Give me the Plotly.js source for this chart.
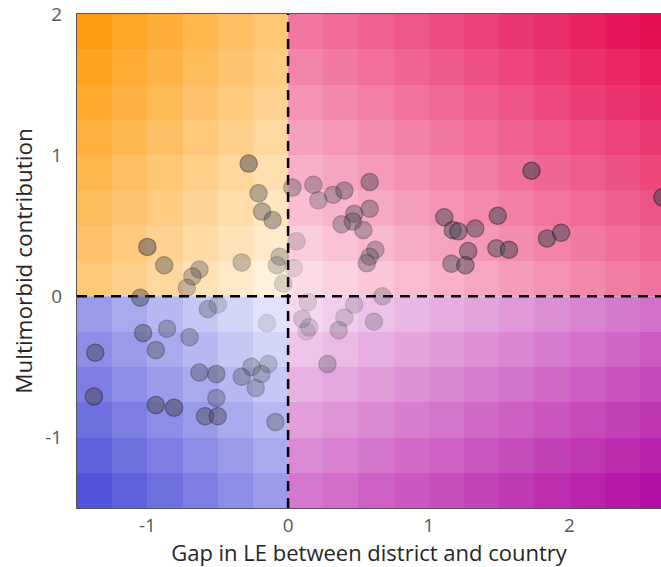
<!DOCTYPE html>
<html>
<head>
<meta charset="utf-8">
<script src="https://cdn.plot.ly/plotly-3.0.1.min.js"></script>
<style>html,body{margin:0;padding:0;background:#fff;}#chart{width:661px;height:567px;}</style>
</head>
<body>
<div id="chart"></div>
<script>
// ---- Data ----
const gapLE = [
  // top-left quadrant
  -1.00, -0.88, -0.63, -0.68, -0.72, -0.33, -0.28, -0.21, -0.185, -0.11, -0.06, -0.08, -0.035, -1.05,
  // top-right quadrant
  0.03, 0.18, 0.215, 0.32, 0.40, 0.58, 0.58, 0.47, 0.46, 0.38, 0.535, 0.62, 0.58, 0.56, 0.06, 0.04, 0.67,
  1.73, 1.11, 1.17, 1.21, 1.33, 1.49, 1.28, 1.16, 1.26, 1.48, 1.57, 1.84, 1.94, 2.66,
  // bottom-left quadrant
  -1.03, -0.86, -0.70, -0.94, -1.37, -1.38, -0.94, -0.81, -0.57, -0.50, -0.15, -0.63, -0.51, -0.33,
  -0.26, -0.14, -0.19, -0.23, -0.51, -0.59, -0.50, -0.09,
  // bottom-right quadrant
  0.14, 0.47, 0.10, 0.15, 0.13, 0.40, 0.36, 0.61, 0.28
];
const multimorbid = [
  0.35, 0.22, 0.19, 0.14, 0.06, 0.24, 0.94, 0.73, 0.60, 0.54, 0.28, 0.22, 0.09, -0.01,
  0.77, 0.79, 0.68, 0.72, 0.75, 0.81, 0.62, 0.585, 0.53, 0.51, 0.47, 0.33, 0.28, 0.235, 0.39, 0.20, 0.00,
  0.89, 0.56, 0.47, 0.46, 0.48, 0.57, 0.32, 0.23, 0.22, 0.34, 0.33, 0.41, 0.45, 0.70,
  -0.26, -0.23, -0.29, -0.38, -0.40, -0.71, -0.77, -0.79, -0.09, -0.06, -0.19, -0.54, -0.55, -0.57,
  -0.50, -0.48, -0.55, -0.65, -0.72, -0.85, -0.85, -0.89,
  -0.04, -0.06, -0.16, -0.22, -0.25, -0.15, -0.24, -0.18, -0.48
];
const pointAlpha = [
  0.5, 0.4, 0.35, 0.35, 0.3, 0.3, 0.5, 0.4, 0.4, 0.4, 0.3, 0.25, 0.2, 0.45,
  0.35, 0.35, 0.3, 0.35, 0.4, 0.45, 0.4, 0.4, 0.4, 0.35, 0.35, 0.35, 0.35, 0.35, 0.2, 0.15, 0.25,
  0.6, 0.5, 0.5, 0.5, 0.5, 0.55, 0.5, 0.45, 0.5, 0.5, 0.55, 0.55, 0.55, 0.6,
  0.45, 0.35, 0.35, 0.4, 0.5, 0.5, 0.5, 0.5, 0.3, 0.2, 0.15, 0.4, 0.4, 0.35,
  0.3, 0.25, 0.3, 0.3, 0.35, 0.45, 0.45, 0.35,
  0.15, 0.2, 0.2, 0.2, 0.15, 0.2, 0.25, 0.25, 0.3
];
const xTicks = [-1, 0, 1, 2];
const yTicks = [-1, 0, 1, 2];
const xRange = [-1.5, 2.65];
const yRange = [-1.5, 2.0];

// ---- Background quadrant gradient (decoration) ----
const cell = 0.25;
function centers(a, b) { const out = []; for (let v = a + cell / 2; v < b; v += cell) out.push(+v.toFixed(4)); return out; }
function quadrant(x0, x1, y0, y1, light, dark) {
  const xs = centers(x0, x1), ys = centers(y0, y1);
  const xm = Math.max(Math.abs(x0), Math.abs(x1)), ym = Math.max(Math.abs(y0), Math.abs(y1));
  const z = ys.map(y => xs.map(x => (Math.abs(x) / xm + Math.abs(y) / ym) / 2));
  return { type: 'heatmap', x: xs, y: ys, z: z, zmin: 0, zmax: 1, showscale: false, hoverinfo: 'skip',
           colorscale: [[0, light], [1, dark]] };
}
const traces = [
  quadrant(-1.5, 0, 0, 2, '#FFF8EC', '#FF9600'),
  quadrant(0, 2.75, 0, 2, '#FDE8F0', '#E6004A'),
  quadrant(-1.5, 0, -1.5, 0, '#F0F2FE', '#4444D6'),
  quadrant(0, 2.75, -1.5, 0, '#F9E6F6', '#AE009E')
];
// dashed reference lines at zero
traces.push({ type: 'scatter', mode: 'lines', x: xRange, y: [0, 0], hoverinfo: 'skip', showlegend: false,
  line: { color: '#000', width: 2.5, dash: '10px,7px' } });
traces.push({ type: 'scatter', mode: 'lines', x: [0, 0], y: yRange, hoverinfo: 'skip', showlegend: false,
  line: { color: '#000', width: 2.5, dash: '10px,7px' } });
// district points
traces.push({ type: 'scatter', mode: 'markers', x: gapLE, y: multimorbid, showlegend: false, cliponaxis: true,
  marker: { size: 17, color: 'rgb(75,75,85)', opacity: pointAlpha, line: { color: 'rgb(30,30,40)', width: 1.5 } } });

const layout = {
  width: 661, height: 567,
  margin: { l: 77, r: 0, t: 14, b: 59 },
  paper_bgcolor: '#fff', plot_bgcolor: '#fff',
  showlegend: false,
  font: { family: 'Open Sans, sans-serif', color: '#595959' },
  xaxis: {
    range: xRange, tickvals: xTicks, ticktext: xTicks.map(String), showgrid: false, zeroline: false,
    showline: true, linecolor: '#555', linewidth: 1, mirror: true, ticks: '',
    tickfont: { size: 19, color: '#595959' }, ticklabelstandoff: 0,
    title: { text: 'Gap in LE between district and country', font: { size: 22, color: '#262626' }, standoff: 3 }
  },
  yaxis: {
    range: yRange, tickvals: yTicks, ticktext: yTicks.map(String), showgrid: false, zeroline: false,
    showline: true, linecolor: '#555', linewidth: 1, ticks: '',
    tickfont: { size: 19, color: '#595959' }, ticklabelstandoff: 10,
    title: { text: 'Multimorbid contribution', font: { size: 22.5, color: '#262626' }, standoff: 6 }
  }
};
Plotly.newPlot('chart', traces, layout, { staticPlot: true, displayModeBar: false });
</script>
</body>
</html>
